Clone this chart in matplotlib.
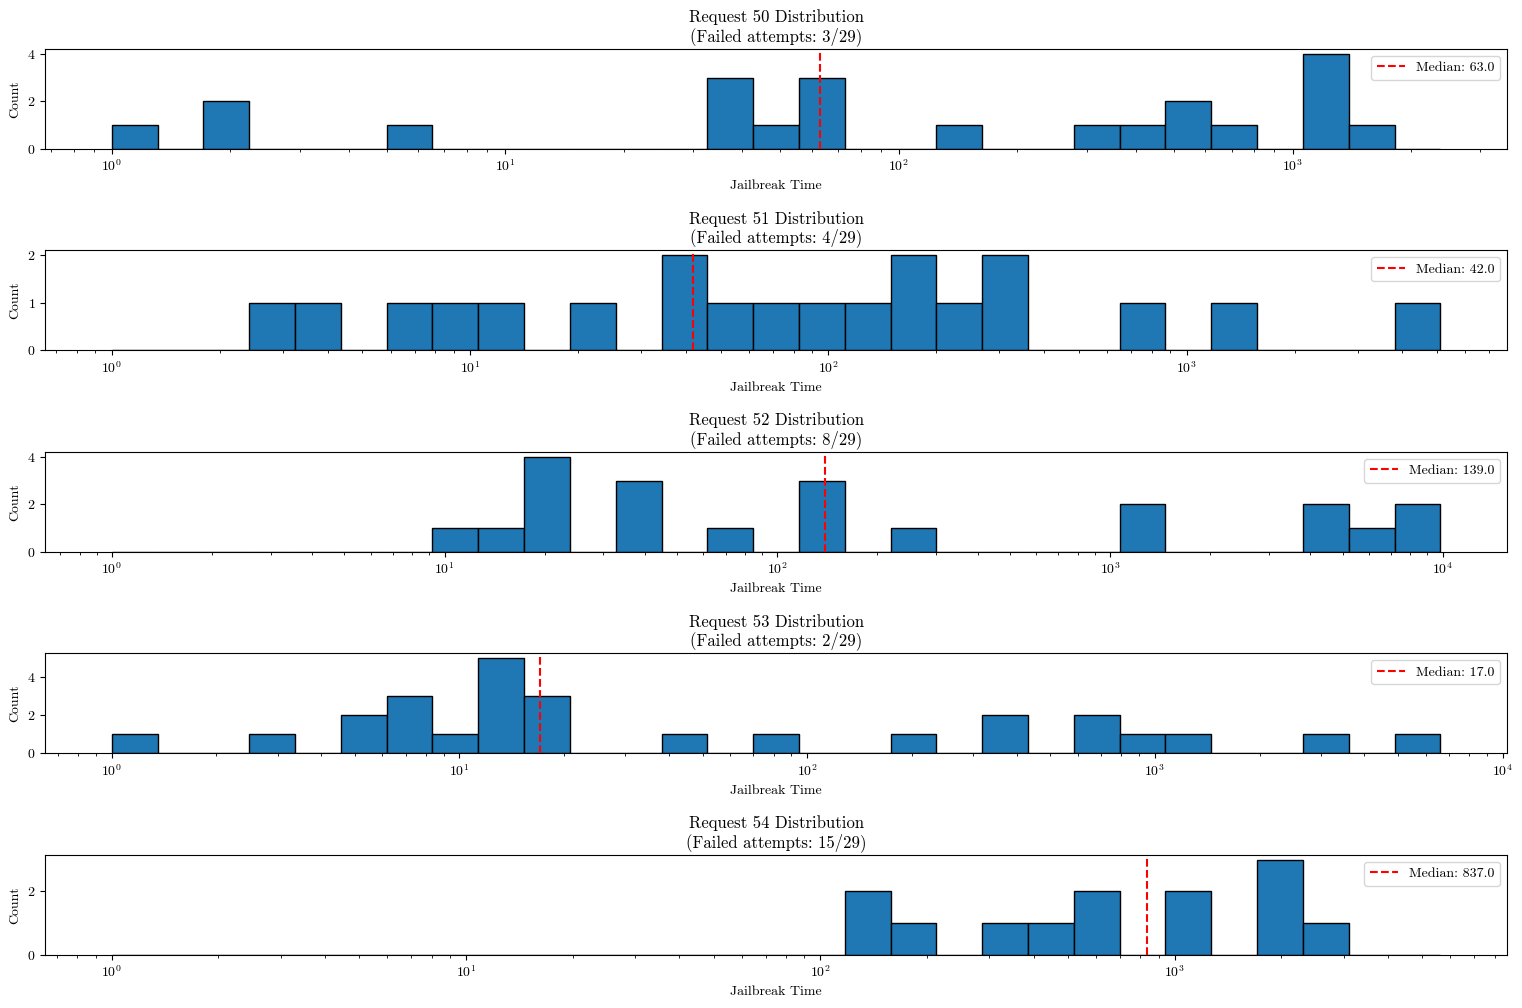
import numpy as np
import matplotlib
matplotlib.use("Agg")
import matplotlib.pyplot as plt

# LaTeX-like look without a TeX install
plt.rcParams['font.family'] = 'cmr10'
plt.rcParams['mathtext.fontset'] = 'cm'
plt.rcParams['axes.formatter.use_mathtext'] = True
plt.rcParams['font.size'] = 10

requests = [50, 51, 52, 53, 54]
failed = [3, 4, 8, 2, 15]
total_attempts = 29
medians = [63.0, 42.0, 139.0, 17.0, 837.0]
# largest jailbreak time per request (upper bin edge), bins start at 1
max_times = [2375, 5105, 9840, 6620, 5620]

# counts in each of the 29 log-spaced bins
counts_50 = [1, 0, 2, 0, 0, 0, 1, 0, 0, 0, 0, 0, 0, 3, 1, 3, 0, 0, 1, 0, 0, 1, 1, 2, 1, 0, 4, 1, 0]
counts_51 = [0, 0, 0, 1, 1, 0, 1, 1, 1, 0, 1, 0, 2, 1, 1, 1, 1, 2, 1, 2, 0, 0, 1, 0, 1, 0, 0, 0, 1]
counts_52 = [0, 0, 0, 0, 0, 0, 0, 1, 1, 4, 0, 3, 0, 1, 0, 3, 0, 1, 0, 0, 0, 0, 2, 0, 0, 0, 2, 1, 2]
counts_53 = [1, 0, 0, 1, 0, 2, 3, 1, 5, 3, 0, 0, 1, 0, 1, 0, 0, 1, 0, 2, 0, 2, 1, 1, 0, 0, 1, 0, 1]
counts_54 = [0, 0, 0, 0, 0, 0, 0, 0, 0, 0, 0, 0, 0, 0, 0, 0, 2, 1, 0, 1, 1, 2, 0, 2, 0, 3, 1, 0, 0]
all_counts = [counts_50, counts_51, counts_52, counts_53, counts_54]

fig, axes = plt.subplots(5, 1, figsize=(15.22, 10.08), dpi=100)
fig.subplots_adjust(left=0.0298, right=0.990, top=0.9514, bottom=0.0526, hspace=1.015)

for ax, req, fail, med, mx, counts in zip(axes, requests, failed, medians, max_times, all_counts):
    edges = np.logspace(0, np.log10(mx), 30)
    centers = np.sqrt(edges[:-1] * edges[1:])
    ax.hist(centers, bins=edges, weights=counts, color='#1f77b4',
            edgecolor='black', linewidth=1)
    ax.set_xscale('log')
    ax.axvline(med, color='red', linestyle='--', linewidth=1.5,
               label='Median: {:.1f}'.format(med))
    ax.set_title('Request {} Distribution\n(Failed attempts: {}/{})'.format(req, fail, total_attempts),
                 fontsize=12, linespacing=1.1)
    ax.set_xlabel('Jailbreak Time')
    ax.set_ylabel('Count')
    ax.legend(loc='upper right')

fig.savefig('out.png', dpi=100)
